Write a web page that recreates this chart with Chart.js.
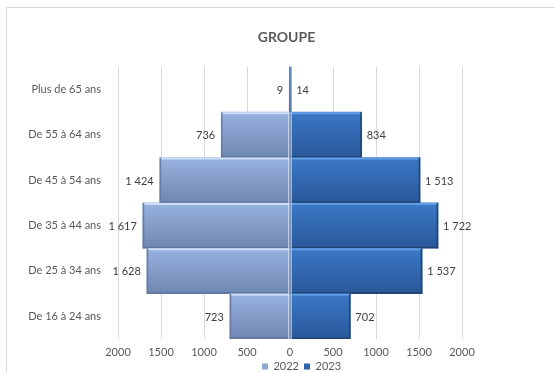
<!DOCTYPE html>
<html><head><meta charset="utf-8">
<script src="https://cdn.jsdelivr.net/npm/chart.js@4.4.1/dist/chart.umd.min.js"></script>
<style>html,body{margin:0;padding:0;background:#fff;overflow:hidden}#wrap{width:555px;height:372px;position:relative}</style>
</head><body><div id="wrap"><canvas id="c" width="555" height="372"></canvas></div>
<script>
// ---- data ----
const categories = ['Plus de 65 ans', 'De 55 à 64 ans', 'De 45 à 54 ans', 'De 35 à 44 ans', 'De 25 à 34 ans', 'De 16 à 24 ans'];
const seriesNames = ['2022', '2023'];
// bar lengths as drawn in the picture
const values2022 = [9, 800, 1515, 1712, 1665, 700];
const values2023 = [14, 834, 1513, 1722, 1537, 702];
// data label texts as printed in the picture
const labels2022 = ['9', '736', '1 424', '1 617', '1 628', '723'];
const labels2023 = ['14', '834', '1 513', '1 722', '1 537', '702'];
const xTickValues = [-2000, -1500, -1000, -500, 0, 500, 1000, 1500, 2000];
const chartTitle = 'GROUPE';

const FONT = 'Lato, "Open Sans", sans-serif';
const TXT = '#595959';

function gradFill(top, bottom, fallback) {
  return (ctx) => {
    const chart = ctx.chart;
    const ys = chart.scales && chart.scales.y;
    if (!ys || ctx.type !== 'data') return fallback;
    const c = ys.getPixelForValue(ctx.dataIndex);
    const h = Math.abs(ys.getPixelForTick(1) - ys.getPixelForTick(0));
    if (!isFinite(c) || !isFinite(h) || h === 0) return fallback;
    const g = chart.ctx.createLinearGradient(0, c - h / 2, 0, c + h / 2);
    g.addColorStop(0, top);
    g.addColorStop(1, bottom);
    return g;
  };
}

const framePlugin = {
  id: 'frame',
  beforeDraw(chart) {
    const c = chart.ctx;
    c.save();
    c.fillStyle = '#ffffff';
    c.fillRect(0, 0, chart.width, chart.height);
    c.strokeStyle = '#D9D9D9';
    c.lineWidth = 1;
    c.beginPath();
    c.moveTo(6.5, chart.height + 2);
    c.lineTo(6.5, 7.5);
    c.lineTo(chart.width + 2, 7.5);
    c.stroke();
    c.restore();
  },
  afterLayout(chart) {
    if (chart.legend) { chart.legend.left += 15; chart.legend.right += 15; }
  }
};

const bevelPlugin = {
  id: 'bevel',
  afterDatasetsDraw(chart) {
    const c = chart.ctx;
    const styles = [
      { hi: 'rgba(210,226,248,0.95)', lo: 'rgba(95,115,155,0.9)', outer: 'rgba(100,122,165,0.9)', inner: 'rgba(225,232,242,0.95)' },
      { hi: 'rgba(100,160,230,0.95)', lo: 'rgba(30,62,110,0.9)', outer: 'rgba(30,66,118,0.95)', inner: 'rgba(200,215,235,0.95)' }
    ];
    chart.data.datasets.forEach((ds, di) => {
      const meta = chart.getDatasetMeta(di);
      const s = styles[di];
      meta.data.forEach((el) => {
        const p = el.getProps(['x', 'y', 'base', 'height'], true);
        const left = Math.min(p.x, p.base), right = Math.max(p.x, p.base);
        const w = right - left;
        if (w < 2) return;
        const top = p.y - p.height / 2, bottom = p.y + p.height / 2;
        c.save();
        c.fillStyle = s.hi; c.fillRect(left, top, w, 2);
        c.fillStyle = s.lo; c.fillRect(left, bottom - 1.5, w, 1.5);
        c.fillStyle = s.outer;
        if (di === 0) c.fillRect(left, top, 1.5, p.height); else c.fillRect(right - 1.5, top, 1.5, p.height);
        c.fillStyle = s.inner;
        if (di === 0) c.fillRect(right - 1, top, 1, p.height); else c.fillRect(left, top, 1, p.height);
        c.restore();
      });
    });
  }
};

const labelPlugin = {
  id: 'barLabels',
  afterDatasetsDraw(chart) {
    const c = chart.ctx;
    const texts = [labels2022, labels2023];
    c.save();
    c.font = '11px ' + FONT;
    c.fillStyle = '#404040';
    c.textBaseline = 'middle';
    chart.data.datasets.forEach((ds, di) => {
      const meta = chart.getDatasetMeta(di);
      meta.data.forEach((el, i) => {
        const p = el.getProps(['x', 'y', 'base'], true);
        const left = Math.min(p.x, p.base), right = Math.max(p.x, p.base);
        if (di === 0) { c.textAlign = 'right'; c.fillText(texts[di][i], left - 6, p.y + 1); }
        else { c.textAlign = 'left'; c.fillText(texts[di][i], right + 5, p.y + 1); }
      });
    });
    c.restore();
  }
};

new Chart(document.getElementById('c'), {
  type: 'bar',
  data: {
    labels: categories,
    datasets: [
      { label: seriesNames[0], data: values2022.map(v => -v), backgroundColor: gradFill('#98B3E0', '#6F86B2', '#8AA3D2'), legendColor: '#8EA6D2', borderWidth: 0, barPercentage: 1, categoryPercentage: 1 },
      { label: seriesNames[1], data: values2023, backgroundColor: gradFill('#3B78C6', '#2A5899', '#3368B0'), legendColor: '#2F63A8', borderWidth: 0, barPercentage: 1, categoryPercentage: 1 }
    ]
  },
  options: {
    indexAxis: 'y',
    responsive: false,
    devicePixelRatio: 1,
    animation: false,
    events: [],
    layout: { padding: { left: 18, right: 0, top: 0, bottom: 0 } },
    scales: {
      x: {
        stacked: true,
        min: -2000, max: 2000,
        afterBuildTicks(scale) { scale.ticks = xTickValues.map(v => ({ value: v })); },
        afterFit(scale) { scale.height = 17; },
        ticks: { color: TXT, font: { family: FONT, size: 11 }, padding: 7, maxRotation: 0, callback: (v) => String(Math.abs(v)) },
        grid: { drawTicks: false, lineWidth: (ctx) => ctx.tick && ctx.tick.value === 0 ? 1.5 : 1, color: (ctx) => ctx.tick && ctx.tick.value === 0 ? '#3D5578' : '#D9D9D9' },
        border: { display: false }
      },
      y: {
        stacked: true,
        afterFit(scale) { scale.width = 100; },
        ticks: { color: TXT, font: { family: FONT, size: 11 }, padding: 17 },
        grid: { display: false, drawTicks: false },
        border: { display: false }
      },
      yRight: {
        type: 'category',
        axis: 'y',
        position: 'right',
        display: true,
        afterFit(scale) { scale.width = 93; },
        ticks: { display: false },
        grid: { display: false, drawTicks: false },
        border: { display: false }
      }
    },
    plugins: {
      title: { display: true, text: chartTitle, color: TXT, font: { family: FONT, size: 14, weight: 'bold' }, padding: { top: 29, bottom: 21 } },
      legend: {
        position: 'bottom',
        maxHeight: 16,
        labels: {
          color: TXT, font: { family: FONT, size: 11 }, boxWidth: 6, boxHeight: 6, padding: 5,
          generateLabels(chart) {
            return chart.data.datasets.map((ds, i) => ({ text: ds.label, fillStyle: ds.legendColor, strokeStyle: ds.legendColor, lineWidth: 0, datasetIndex: i, fontColor: TXT }));
          }
        }
      },
      tooltip: { enabled: false }
    }
  },
  plugins: [framePlugin, bevelPlugin, labelPlugin]
});
</script>
</body></html>
